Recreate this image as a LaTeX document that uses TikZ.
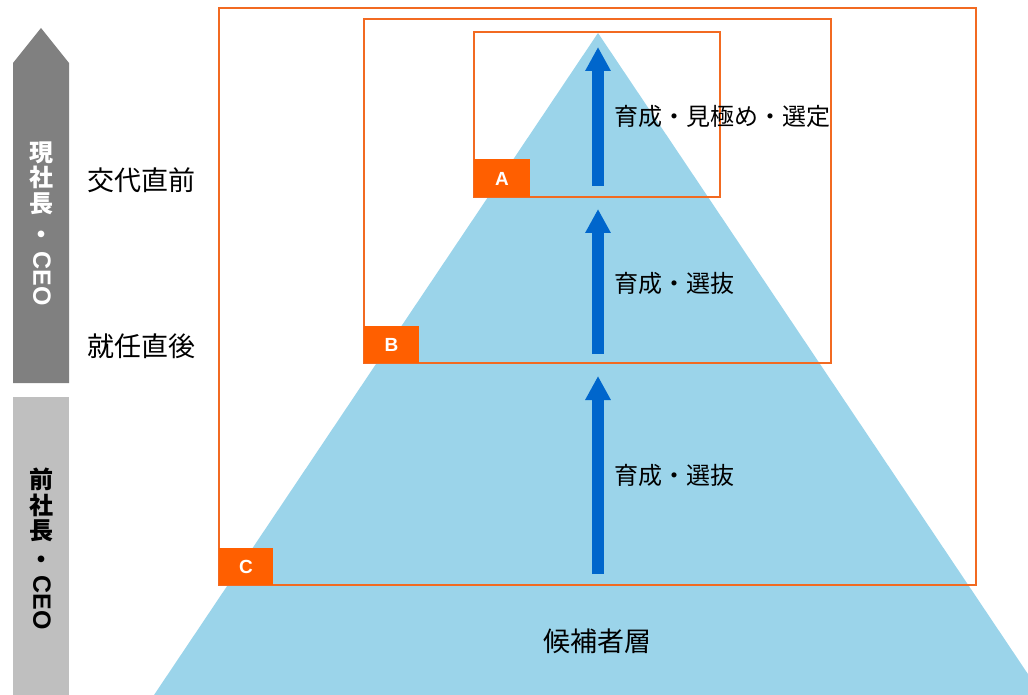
\documentclass[tikz,border=0pt]{standalone}
\usepackage{fontspec}
\setmainfont{Noto Sans CJK JP}
\newfontfamily\latinbold{Liberation Sans}[BoldFont={* Bold}]
\usetikzlibrary{arrows.meta}
\definecolor{pyr}{HTML}{9BD4EA}
\definecolor{org}{HTML}{F26A21}
\definecolor{orgfill}{HTML}{FF5F00}
\definecolor{blu}{HTML}{0066CC}
\definecolor{dgray}{HTML}{808080}
\definecolor{lgray}{HTML}{BFBFBF}
\tikzset{
  framebox/.style={draw=org, line width=1.6pt},
  tagbox/.style={fill=orgfill, draw=none},
  taglabel/.style={text=white, font=\latinbold\bfseries\fontsize{19}{21}\selectfont},
  uparrow/.style={draw=blu, line width=12pt, -{Triangle[width=24pt,length=24pt]}},
  lbl/.style={font=\fontsize{24}{28}\selectfont, inner sep=0pt, anchor=west},
  side/.style={font=\fontsize{27}{30}\selectfont, inner sep=0pt, anchor=west},
  vstack/.style={font=\bfseries\fontsize{24}{25.5}\selectfont, align=center, inner sep=0pt},
  vceo/.style={font=\latinbold\bfseries\fontsize{25}{28}\selectfont, rotate=-90, inner sep=0pt},
}
\begin{document}
\begin{tikzpicture}[x=1pt,y=-1pt]
\useasboundingbox (0,0) rectangle (1028,695);
% pyramid
\begin{scope}
\clip (0,0) rectangle (1028,695);
\fill[pyr] (598,33) -- (1042,695) -- (154,695) -- cycle;
\end{scope}
% left bars
\fill[dgray] (13,383) -- (13,63) -- (41,28) -- (69,63) -- (69,383) -- cycle;
\fill[lgray] (13,397) rectangle (69,695);
\node[vstack, text=white] (cur) at (41,178) {現\\社\\長};
\node[vstack, text=white] (curdot) at (41,237) {・};
\node[vceo, text=white] (curceo) at (42,279) {CEO};
\node[vstack, text=black] (prev) at (41,505) {前\\社\\長};
\node[vstack, text=black] (prevdot) at (41,562) {・};
\node[vceo, text=black] (prevceo) at (42,603) {CEO};
% frames
\draw[framebox] (219,8) rectangle (976,585);
\draw[framebox] (364,19) rectangle (831,363);
\draw[framebox] (474,32) rectangle (720,197);
% tags
\fill[tagbox] (219,548) rectangle (273,585);
\node[taglabel] (tagC) at (246,567) {C};
\fill[tagbox] (364,326) rectangle (419,363);
\node[taglabel] (tagB) at (391.5,345) {B};
\fill[tagbox] (474,159) rectangle (530,197);
\node[taglabel] (tagA) at (502,179) {A};
% arrows
\coordinate (a1s) at (598,186);
\coordinate (a1e) at (598,47);
\coordinate (a2s) at (598,354);
\coordinate (a2e) at (598,209);
\coordinate (a3s) at (598,574);
\coordinate (a3e) at (598,376);
\draw[uparrow] (a1s) -- (a1e);
\draw[uparrow] (a2s) -- (a2e);
\draw[uparrow] (a3s) -- (a3e);
% labels
\node[lbl] (l1) at (614,116) {育成・見極め・選定};
\node[lbl] (l2) at (614,283) {育成・選抜};
\node[lbl] (l3) at (614,475) {育成・選抜};
\node[font=\fontsize{27}{30}\selectfont, inner sep=0pt] (base) at (597,641) {候補者層};
\node[side] (t1) at (87,180) {交代直前};
\node[side] (t2) at (87,346) {就任直後};
\end{tikzpicture}
\end{document}
